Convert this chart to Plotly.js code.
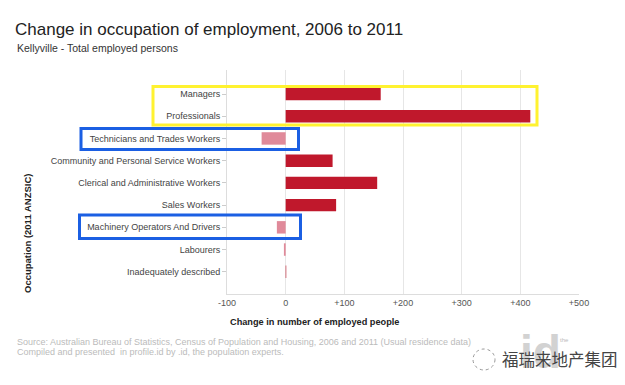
<!DOCTYPE html>
<html>
<head>
<meta charset="utf-8">
<script src="https://cdn.plot.ly/plotly-3.0.1.min.js"></script>
<style>
  html, body { margin: 0; padding: 0; background: #ffffff; }
  #chart { width: 625px; height: 385px; }
</style>
</head>
<body>
<div id="chart"></div>
<script>
// ---- Data ----
const categories = [
  "Managers",
  "Professionals",
  "Technicians and Trades Workers",
  "Community and Personal Service Workers",
  "Clerical and Administrative Workers",
  "Sales Workers",
  "Machinery Operators And Drivers",
  "Labourers",
  "Inadequately described"
];
const changes = [162, 417, -41, 80, 156, 86, -15, -3, 1];
const xTickValues = [-100, 0, 100, 200, 300, 400, 500];
const xTickLabels = ["-100", "0", "+100", "+200", "+300", "+400", "+500"];

// ---- Styling helpers ----
const W = 625, H = 385;
const L = 227, R = 579, T = 70, B = 294;
const px = v => (v - L) / (R - L);
const py = v => (B - v) / (B - T);
const FONT = "Liberation Sans, Arial, sans-serif";

const posColor = "#c0182c";
const negColor = "#e08a9a";
const barColors = changes.map(v => v >= 0 ? posColor : negColor);

const trace = {
  type: "bar",
  orientation: "h",
  x: changes,
  y: categories,
  marker: { color: barColors, line: { width: 0 } },
  width: 0.56,
  hoverinfo: "x+y"
};

function box(x0, y0, x1, y1, color) {
  return {
    type: "rect", xref: "paper", yref: "paper",
    x0: px(x0), x1: px(x1), y0: py(y1), y1: py(y0),
    line: { color: color, width: 3 }, fillcolor: "rgba(0,0,0,0)", layer: "above"
  };
}

const layout = {
  width: W, height: H,
  margin: { l: L, r: W - R, t: T, b: H - B, pad: 0 },
  paper_bgcolor: "#ffffff",
  plot_bgcolor: "#ffffff",
  showlegend: false,
  font: { family: FONT, size: 9, color: "#444" },
  title: {
    text: "Change in occupation of employment, 2006 to 2011",
    font: { family: FONT, size: 17, color: "#222" },
    x: 15 / W, xanchor: "left",
    y: 1 - 29 / H, yanchor: "middle",
    xref: "container", yref: "container"
  },
  xaxis: {
    range: [-100, 500],
    tickmode: "array",
    tickvals: xTickValues,
    ticktext: xTickLabels,
    showgrid: true,
    gridcolor: "#e6e6e6",
    gridwidth: 1,
    zeroline: false,
    showline: true,
    linecolor: "#dddddd",
    linewidth: 1,
    ticks: "",
    tickfont: { family: FONT, size: 9, color: "#555" },
    fixedrange: true
  },
  yaxis: {
    type: "category",
    range: [9.0, -1.08],
    showgrid: false,
    zeroline: false,
    showline: true,
    linecolor: "#dddddd",
    linewidth: 1,
    ticks: "outside",
    ticklen: 4,
    tickcolor: "#cccccc",
    tickfont: { family: FONT, size: 9, color: "#444" },
    fixedrange: true
  },
  annotations: [
    {
      text: "Kellyville - Total employed persons",
      xref: "paper", yref: "paper", x: px(15), y: py(48),
      xanchor: "left", yanchor: "middle", showarrow: false,
      font: { family: FONT, size: 10.5, color: "#333" }
    },
    {
      text: "<b>Occupation (2011 ANZSIC)</b>",
      xref: "paper", yref: "paper", x: px(27), y: py(233),
      xanchor: "center", yanchor: "middle", textangle: -90, showarrow: false,
      font: { family: FONT, size: 9.5, color: "#222" }
    },
    {
      text: "<b>Change in number of employed people</b>",
      xref: "paper", yref: "paper", x: px(228), y: py(322),
      xanchor: "left", yanchor: "middle", showarrow: false,
      font: { family: FONT, size: 9.2, color: "#222" }
    },
    {
      text: "Source: Australian Bureau of Statistics, Census of Population and Housing, 2006 and 2011 (Usual residence data)",
      xref: "paper", yref: "paper", x: px(15), y: py(342),
      xanchor: "left", yanchor: "middle", showarrow: false,
      font: { family: FONT, size: 9, color: "#bbbbbb" }
    },
    {
      text: "Compiled and presented  in profile.id by .id, the population experts.",
      xref: "paper", yref: "paper", x: px(15), y: py(351.5),
      xanchor: "left", yanchor: "middle", showarrow: false,
      font: { family: FONT, size: 9, color: "#bbbbbb" }
    },
    {
      text: "<b>id</b>",
      xref: "paper", yref: "paper", x: px(540), y: py(352),
      xanchor: "center", yanchor: "middle", showarrow: false,
      font: { family: FONT, size: 46, color: "#d2d2d2" }
    },
    {
      text: "the",
      xref: "paper", yref: "paper", x: px(558), y: py(340),
      xanchor: "left", yanchor: "middle", showarrow: false,
      font: { family: FONT, size: 6, color: "#bbbbbb" }
    },
    {
      text: "福瑞来地产集团",
      xref: "paper", yref: "paper", x: px(500), y: py(359),
      xanchor: "left", yanchor: "middle", showarrow: false,
      font: { family: "Noto Sans CJK SC, sans-serif", size: 16.5, color: "#444" }
    }
  ],
  shapes: [
    box(153, 86.5, 537, 125, "#fff230"),
    box(81, 128.5, 298.5, 149.5, "#1b5fe3"),
    box(79.5, 215, 300.5, 238.5, "#1b5fe3"),
    {
      type: "circle", xref: "paper", yref: "paper",
      x0: px(473), x1: px(495), y0: py(370), y1: py(349),
      line: { color: "#999", width: 1, dash: "dot" }, fillcolor: "rgba(0,0,0,0)"
    }
  ]
};

Plotly.newPlot("chart", [trace], layout, { displayModeBar: false, staticPlot: true });
</script>
</body>
</html>
